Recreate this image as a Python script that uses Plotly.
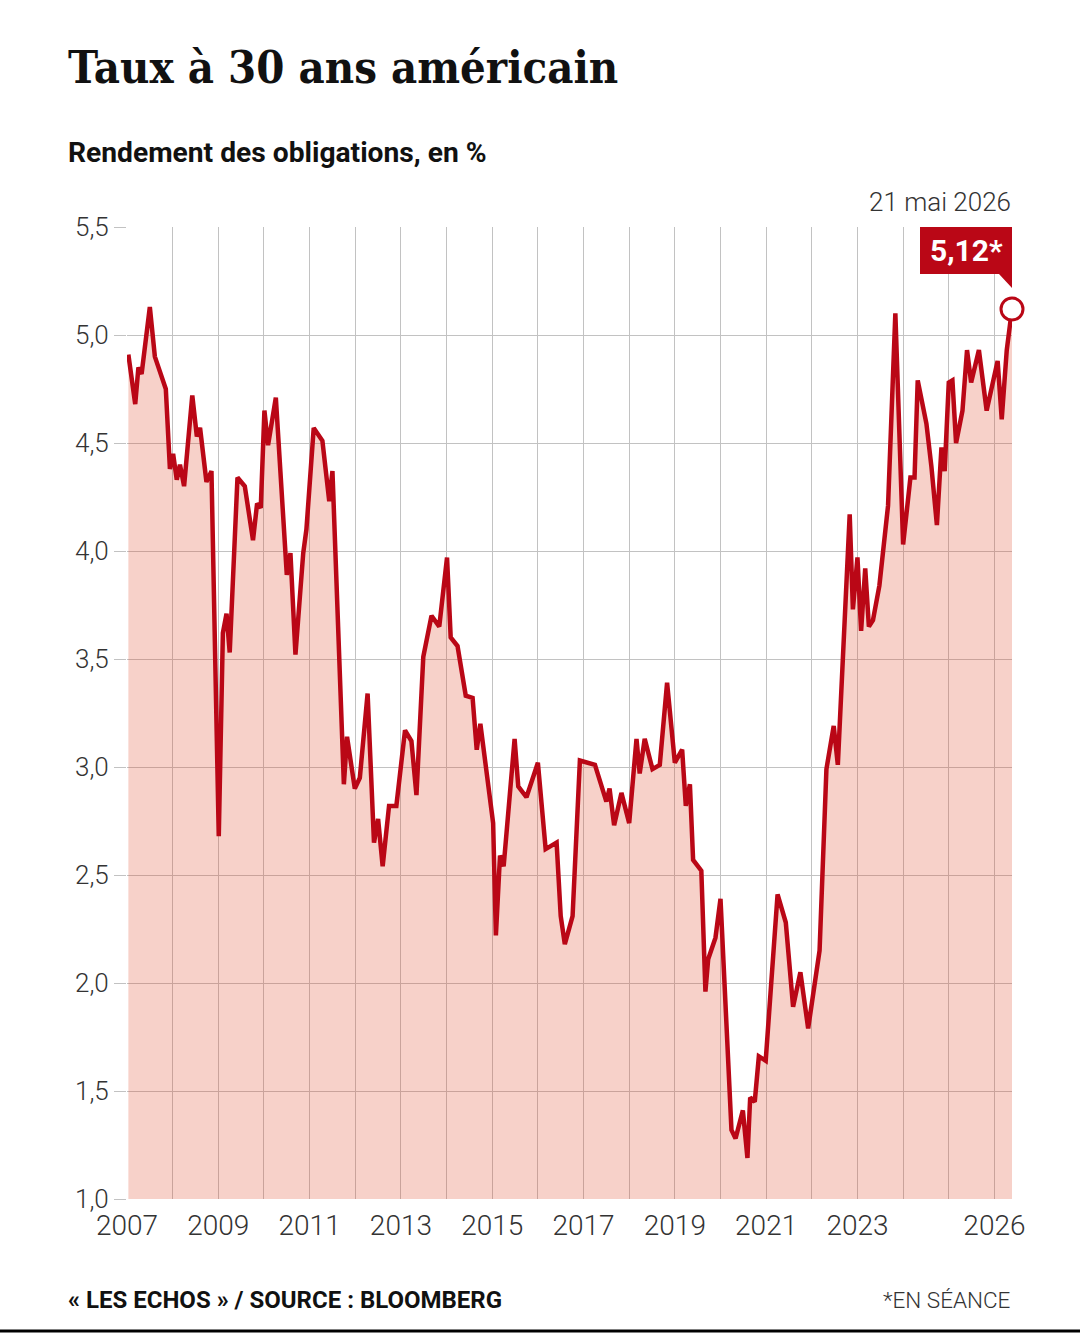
import plotly.graph_objects as go

# ---- data ----
years = [2007.03, 2007.18, 2007.25, 2007.32, 2007.50, 2007.61, 2007.85, 2007.94, 2008.01, 2008.09,
         2008.16, 2008.25, 2008.43, 2008.53, 2008.60, 2008.74, 2008.85, 2009.01, 2009.10, 2009.18,
         2009.25, 2009.42, 2009.58, 2009.76, 2009.85, 2009.93, 2010.01, 2010.09, 2010.26, 2010.50,
         2010.58, 2010.69, 2010.86, 2010.93, 2011.09, 2011.28, 2011.43, 2011.50, 2011.75, 2011.82,
         2011.99, 2012.10, 2012.27, 2012.41, 2012.50, 2012.60, 2012.74, 2012.90, 2013.09, 2013.23,
         2013.34, 2013.49, 2013.67, 2013.84, 2014.01, 2014.09, 2014.24, 2014.42, 2014.57, 2014.66,
         2014.74, 2015.02, 2015.08, 2015.17, 2015.25, 2015.49, 2015.57, 2015.75, 2016.00, 2016.17,
         2016.41, 2016.50, 2016.59, 2016.76, 2016.92, 2017.25, 2017.50, 2017.57, 2017.67, 2017.83,
         2018.00, 2018.16, 2018.23, 2018.34, 2018.51, 2018.67, 2018.83, 2019.00, 2019.16, 2019.24,
         2019.33, 2019.40, 2019.58, 2019.67, 2019.73, 2019.89, 2020.00, 2020.24, 2020.33, 2020.49,
         2020.59, 2020.65, 2020.75, 2020.84, 2020.99, 2021.25, 2021.43, 2021.59, 2021.75, 2021.92,
         2022.17, 2022.32, 2022.48, 2022.57, 2022.83, 2022.90, 2023.00, 2023.08, 2023.17, 2023.25,
         2023.34, 2023.48, 2023.67, 2023.83, 2024.00, 2024.16, 2024.25, 2024.32, 2024.51, 2024.62,
         2024.74, 2024.84, 2024.91, 2025.00, 2025.08, 2025.16, 2025.30, 2025.40, 2025.49, 2025.66,
         2025.83, 2026.07, 2026.16, 2026.27, 2026.385]

yields = [4.91, 4.68, 4.85, 4.82, 5.13, 4.90, 4.75, 4.38, 4.45, 4.33,
          4.40, 4.30, 4.72, 4.53, 4.57, 4.32, 4.37, 2.68, 3.62, 3.71,
          3.53, 4.34, 4.30, 4.05, 4.22, 4.20, 4.65, 4.49, 4.71, 3.89,
          3.99, 3.52, 3.99, 4.10, 4.57, 4.51, 4.23, 4.37, 2.92, 3.14,
          2.90, 2.95, 3.34, 2.65, 2.76, 2.54, 2.82, 2.82, 3.17, 3.12,
          2.87, 3.51, 3.70, 3.65, 3.97, 3.60, 3.56, 3.33, 3.32, 3.08,
          3.20, 2.74, 2.22, 2.59, 2.54, 3.13, 2.91, 2.86, 3.02, 2.62,
          2.65, 2.31, 2.18, 2.31, 3.03, 3.01, 2.84, 2.90, 2.73, 2.88,
          2.74, 3.13, 2.97, 3.13, 2.99, 3.01, 3.39, 3.02, 3.08, 2.82,
          2.92, 2.57, 2.52, 1.96, 2.11, 2.21, 2.39, 1.32, 1.28, 1.41,
          1.19, 1.47, 1.45, 1.66, 1.64, 2.41, 2.28, 1.89, 2.05, 1.79,
          2.15, 2.99, 3.19, 3.01, 4.17, 3.73, 3.97, 3.63, 3.92, 3.65,
          3.68, 3.84, 4.21, 5.10, 4.03, 4.34, 4.34, 4.79, 4.59, 4.39,
          4.12, 4.48, 4.37, 4.78, 4.79, 4.50, 4.65, 4.93, 4.78, 4.93,
          4.65, 4.88, 4.61, 4.93, 5.12]

year_ticks = list(range(2007, 2027))
labeled_years = [2007, 2009, 2011, 2013, 2015, 2017, 2019, 2021, 2023, 2026]
year_tick_text = [str(y) if y in labeled_years else "" for y in year_ticks]
value_ticks = [1.0, 1.5, 2.0, 2.5, 3.0, 3.5, 4.0, 4.5, 5.0, 5.5]

title_text = "Taux à 30 ans américain"
subtitle_text = "Rendement des obligations, en %"
date_text = "21 mai 2026"
source_text = "« LES ECHOS » / SOURCE : BLOOMBERG"
note_text = "*EN SÉANCE"

# ---- style ----
RED = "#ba0716"
FILL = "rgba(222, 72, 40, 0.25)"
GRID = "#c2c2c2"
TICK_FONT = dict(family="Roboto", size=26, color="#333333", weight=300)

W, H = 1080, 1333
L, R, T, B = 127, 68, 227, 134
PW, PH = W - L - R, H - T - B


def px(xp):
    return (xp - L) / PW


def py(yp):
    return (H - B - yp) / PH


fig = go.Figure()

fig.add_trace(go.Scatter(
    x=years, y=yields, mode="lines",
    line=dict(color=RED, width=4.5),
    fill="tozeroy", fillcolor=FILL,
    hoverinfo="skip", showlegend=False,
))

fig.add_trace(go.Scatter(
    x=[years[-1]], y=[yields[-1]], mode="markers",
    marker=dict(size=22, color="white", line=dict(color=RED, width=3)),
    cliponaxis=False, hoverinfo="skip", showlegend=False,
))

# callout box with tail, anchored on the last point (pixel offsets)
fig.add_shape(
    type="path", xref="x", yref="y",
    xsizemode="pixel", ysizemode="pixel",
    xanchor=years[-1], yanchor=yields[-1],
    path="M -92,83 L 0,83 L 0,21 L -13,35 L -92,35 Z",
    fillcolor=RED, line=dict(width=0), layer="above",
)

last_label = f"{yields[-1]:.2f}".replace(".", ",") + "*"
fig.add_annotation(
    x=years[-1], y=yields[-1], xref="x", yref="y",
    text=f"<b>{last_label}</b>", showarrow=False,
    xanchor="center", yanchor="middle", xshift=-46, yshift=59,
    font=dict(family="Roboto", size=30, color="white"),
)

fig.add_annotation(
    x=px(1013), y=py(202), xref="paper", yref="paper",
    text=date_text, showarrow=False, xanchor="right", yanchor="middle",
    font=dict(family="Roboto", size=26, color="#333333", weight=300),
)

# title / subtitle
fig.add_annotation(
    x=px(66), y=py(68), xref="paper", yref="paper",
    text=f"<b>{title_text}</b>", showarrow=False, xanchor="left", yanchor="middle",
    font=dict(family="DejaVu Serif Condensed, DejaVu Serif", size=45, color="#111111"),
)
fig.add_annotation(
    x=px(66), y=py(153), xref="paper", yref="paper",
    text=f"<b>{subtitle_text}</b>", showarrow=False, xanchor="left", yanchor="middle",
    font=dict(family="Roboto", size=28.2, color="#111111"),
)

# footer
fig.add_annotation(
    x=px(66), y=py(1300), xref="paper", yref="paper",
    text=f"<b>{source_text}</b>", showarrow=False, xanchor="left", yanchor="middle",
    font=dict(family="Roboto", size=24, color="#111111"),
)
fig.add_annotation(
    x=px(1012), y=py(1300), xref="paper", yref="paper",
    text=note_text, showarrow=False, xanchor="right", yanchor="middle",
    font=dict(family="Roboto", size=22.5, color="#333333", weight=300),
)

# bottom black rule
fig.add_shape(
    type="line", xref="paper", yref="paper",
    x0=px(0), x1=px(W), y0=py(1331), y1=py(1331),
    line=dict(color="black", width=3),
)

fig.update_layout(
    width=W, height=H,
    margin=dict(l=L, r=R, t=T, b=B, pad=0),
    paper_bgcolor="white", plot_bgcolor="white",
    separators=", ",
    showlegend=False,
    xaxis=dict(
        range=[2007, years[-1]],
        tickmode="array", tickvals=year_ticks, ticktext=year_tick_text,
        showgrid=True, gridcolor=GRID, gridwidth=1.3,
        zeroline=False, showline=False,
        ticks="outside", ticklen=1, tickcolor="rgba(0,0,0,0)",
        tickfont=dict(family="Roboto", size=28, color="#333333", weight=300),
        fixedrange=True,
    ),
    yaxis=dict(
        range=[1.0, 5.5],
        tickmode="array", tickvals=value_ticks, tickformat=".1f",
        showgrid=True, gridcolor=GRID, gridwidth=1.3,
        zeroline=False, showline=False,
        ticks="outside", ticklen=12, tickcolor=GRID, tickwidth=1.3,
        tickfont=TICK_FONT,
        fixedrange=True,
    ),
)

fig.write_html("out.html")
